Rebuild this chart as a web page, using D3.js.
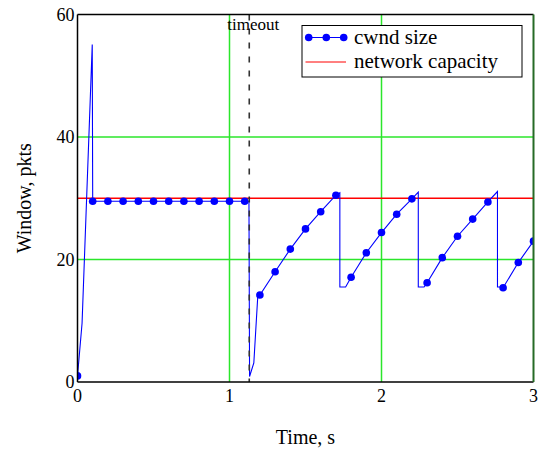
<!DOCTYPE html>
<html>
<head>
<meta charset="utf-8">
<script src="https://cdn.jsdelivr.net/npm/d3@7"></script>
<style>
  body { margin: 0; background: #fff; }
  svg { display: block; font-family: "Liberation Serif", "Times New Roman", serif; }
</style>
</head>
<body>
<div id="chart"></div>
<script>
// cwnd trace (time in s, window in pkts)
const cwndT = [0, 0.03, 0.097, 0.1, 0.2, 0.3, 0.4, 0.5, 0.6, 0.7, 0.8, 0.9, 1.0, 1.1,
  1.128, 1.132, 1.16, 1.186, 1.2, 1.3, 1.4, 1.5, 1.6, 1.7, 1.726, 1.726, 1.764,
  1.8, 1.9, 2.0, 2.1, 2.2, 2.242, 2.242, 2.28, 2.3, 2.4, 2.5, 2.6, 2.7, 2.763, 2.763, 2.778,
  2.8, 2.9, 3.0];
const cwndW = [1, 9.6, 55.1, 29.5, 29.5, 29.5, 29.5, 29.5, 29.5, 29.5, 29.5, 29.5, 29.5, 29.5,
  29.5, 0.9, 3.1, 14.0, 14.2, 18.0, 21.7, 25.0, 27.8, 30.5, 30.9, 15.5, 15.5,
  17.1, 21.1, 24.4, 27.4, 29.9, 31.0, 15.5, 15.5, 16.2, 20.3, 23.8, 26.6, 29.4, 31.1, 15.5, 15.5,
  15.4, 19.5, 23.0];

// sampled points drawn as markers
const markerT = [0, 0.1, 0.2, 0.3, 0.4, 0.5, 0.6, 0.7, 0.8, 0.9, 1.0, 1.1, 1.2, 1.3, 1.4, 1.5,
  1.6, 1.7, 1.8, 1.9, 2.0, 2.1, 2.2, 2.3, 2.4, 2.5, 2.6, 2.7, 2.8, 2.9, 3.0];
const markerW = [1, 29.5, 29.5, 29.5, 29.5, 29.5, 29.5, 29.5, 29.5, 29.5, 29.5, 29.5, 14.2, 18.0, 21.7, 25.0,
  27.8, 30.5, 17.1, 21.1, 24.4, 27.4, 29.9, 16.2, 20.3, 23.8, 26.6, 29.4, 15.4, 19.5, 23.0];

const capacity = 30;
const timeoutT = 1.13;
const xTicks = [0, 1, 2, 3];
const yTicks = [0, 20, 40, 60];
const legendLabels = ["cwnd size", "network capacity"];

const width = 548, height = 451;
const margin = { top: 14.5, right: 14.5, bottom: 69, left: 77.5 };

const svg = d3.select("#chart").append("svg")
    .attr("width", width)
    .attr("height", height);

const x = d3.scaleLinear().domain([0, 3]).range([margin.left, width - margin.right]);
const y = d3.scaleLinear().domain([0, 60]).range([height - margin.bottom, margin.top]);

svg.append("clipPath").attr("id", "plot-clip")
  .append("rect")
    .attr("x", x(0)).attr("y", y(60))
    .attr("width", x(3) - x(0)).attr("height", y(0) - y(60));

// grid
const grid = svg.append("g").attr("stroke", "#2be62b").attr("stroke-width", 1.5);
grid.selectAll("line.v")
    .data(xTicks.filter(d => d > 0 && d < 3))
    .join("line")
    .attr("x1", d => x(d)).attr("x2", d => x(d))
    .attr("y1", y(0)).attr("y2", y(60));
grid.selectAll("line.h")
    .data(yTicks.filter(d => d > 0 && d < 60))
    .join("line")
    .attr("x1", x(0)).attr("x2", x(3))
    .attr("y1", d => y(d)).attr("y2", d => y(d));

// network capacity
svg.append("line")
    .attr("x1", x(0)).attr("x2", x(3))
    .attr("y1", y(capacity)).attr("y2", y(capacity))
    .attr("stroke", "#ff0000")
    .attr("stroke-width", 1.5);

// cwnd line + markers
const plot = svg.append("g").attr("clip-path", "url(#plot-clip)");
const pts = cwndT.map((t, i) => [t, cwndW[i]]);
plot.append("path")
    .datum(pts)
    .attr("fill", "none")
    .attr("stroke", "#0000ff")
    .attr("stroke-width", 1.1)
    .attr("d", d3.line().x(d => x(d[0])).y(d => y(d[1])));

plot.append("g")
    .attr("fill", "#0000ff")
    .selectAll("circle")
    .data(markerT.map((t, i) => [t, markerW[i]]))
    .join("circle")
    .attr("cx", d => x(d[0]))
    .attr("cy", d => y(d[1]))
    .attr("r", 3.8);

// timeout marker
svg.append("line")
    .attr("x1", x(timeoutT)).attr("x2", x(timeoutT))
    .attr("y1", y(60)).attr("y2", y(0))
    .attr("stroke", "#333")
    .attr("stroke-width", 1.6)
    .attr("stroke-dasharray", "6,8");
svg.append("text")
    .attr("x", x(timeoutT) + 4)
    .attr("y", 30)
    .attr("text-anchor", "middle")
    .style("font-size", "17px")
    .text("timeout");

// frame
svg.append("line").attr("x1", x(0)).attr("x2", x(3)).attr("y1", y(60)).attr("y2", y(60))
    .attr("stroke", "#000").attr("stroke-width", 1.5);
svg.append("line").attr("x1", x(0)).attr("x2", x(3)).attr("y1", y(0)).attr("y2", y(0))
    .attr("stroke", "#000").attr("stroke-width", 1.5);
svg.append("line").attr("x1", x(0)).attr("x2", x(0)).attr("y1", y(0)).attr("y2", y(60))
    .attr("stroke", "#000").attr("stroke-width", 1.5);
svg.append("line").attr("x1", x(3)).attr("x2", x(3)).attr("y1", y(0)).attr("y2", y(60))
    .attr("stroke", "#266b26").attr("stroke-width", 2);

// tick labels
svg.append("g").selectAll("text")
    .data(xTicks)
    .join("text")
    .attr("x", d => x(d))
    .attr("y", y(0) + 20)
    .attr("text-anchor", "middle")
    .style("font-size", "18px")
    .text(d => d);
svg.append("g").selectAll("text")
    .data(yTicks)
    .join("text")
    .attr("x", x(0) - 3)
    .attr("y", d => y(d) + 6)
    .attr("text-anchor", "end")
    .style("font-size", "18px")
    .text(d => d);

// axis titles
svg.append("text")
    .attr("x", x(1.5))
    .attr("y", 444)
    .attr("text-anchor", "middle")
    .style("font-size", "20px")
    .text("Time, s");
svg.append("text")
    .attr("transform", `translate(31,${y(30)}) rotate(-90)`)
    .attr("text-anchor", "middle")
    .style("font-size", "20px")
    .text("Window, pkts");

// legend
const lg = svg.append("g");
lg.append("rect")
    .attr("x", 302).attr("y", 25.5)
    .attr("width", 220).attr("height", 51.5)
    .attr("fill", "#fff").attr("stroke", "#000").attr("stroke-width", 1);
lg.append("line")
    .attr("x1", 308.5).attr("x2", 344).attr("y1", 37.5).attr("y2", 37.5)
    .attr("stroke", "#0000ff").attr("stroke-width", 1.2);
lg.selectAll("circle")
    .data([308.7, 326.3, 343.7])
    .join("circle")
    .attr("cx", d => d).attr("cy", 37.5).attr("r", 3.8)
    .attr("fill", "#0000ff");
lg.append("line")
    .attr("x1", 305.5).attr("x2", 346).attr("y1", 62).attr("y2", 62)
    .attr("stroke", "#ff0000").attr("stroke-width", 1);
lg.selectAll("text")
    .data(legendLabels)
    .join("text")
    .attr("x", 354)
    .attr("y", (d, i) => 43.5 + i * 24.5)
    .style("font-size", "21px")
    .text(d => d);
</script>
</body>
</html>
